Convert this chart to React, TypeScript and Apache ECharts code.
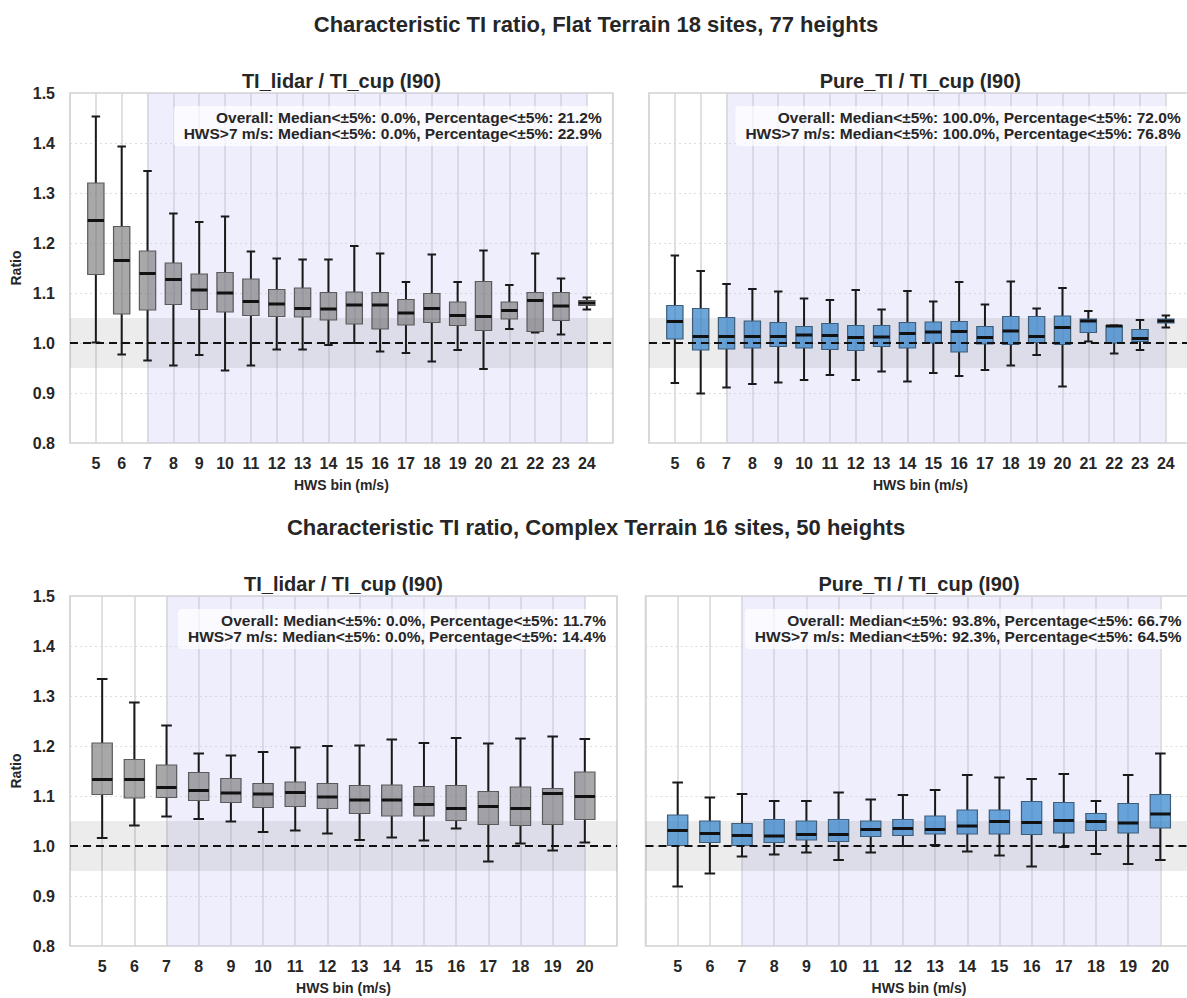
import React, { useEffect, useRef } from "react";
import * as echarts from "echarts";

const FONT = '"Liberation Sans", Arial, Helvetica, sans-serif';

const FLAT_BINS = [5, 6, 7, 8, 9, 10, 11, 12, 13, 14, 15, 16, 17, 18, 19, 20, 21, 22, 23, 24];
const COMPLEX_BINS = [5, 6, 7, 8, 9, 10, 11, 12, 13, 14, 15, 16, 17, 18, 19, 20];

// Flat terrain, TI_lidar / TI_cup
const FLAT_LIDAR_LOW = [1.001, 0.977, 0.965, 0.955, 0.976, 0.945, 0.955, 0.987, 0.987, 0.996, 1.0, 0.983, 0.98, 0.963, 0.986, 0.948, 1.028, 1.021, 1.017, 1.067];
const FLAT_LIDAR_Q1 = [1.137, 1.058, 1.066, 1.077, 1.067, 1.062, 1.055, 1.053, 1.052, 1.046, 1.038, 1.028, 1.036, 1.041, 1.035, 1.025, 1.048, 1.023, 1.045, 1.075];
const FLAT_LIDAR_MED = [1.245, 1.165, 1.139, 1.127, 1.106, 1.1, 1.083, 1.078, 1.069, 1.068, 1.076, 1.076, 1.06, 1.069, 1.055, 1.053, 1.065, 1.085, 1.074, 1.08];
const FLAT_LIDAR_Q3 = [1.32, 1.233, 1.184, 1.16, 1.138, 1.141, 1.128, 1.107, 1.11, 1.101, 1.102, 1.101, 1.087, 1.099, 1.082, 1.123, 1.082, 1.101, 1.101, 1.085];
const FLAT_LIDAR_HIGH = [1.453, 1.393, 1.344, 1.259, 1.242, 1.253, 1.183, 1.169, 1.167, 1.167, 1.194, 1.179, 1.122, 1.177, 1.122, 1.185, 1.116, 1.179, 1.129, 1.091];

// Flat terrain, Pure_TI / TI_cup
const FLAT_PURE_LOW = [0.92, 0.899, 0.911, 0.918, 0.921, 0.926, 0.936, 0.926, 0.943, 0.923, 0.94, 0.934, 0.946, 0.955, 0.976, 0.913, 1.003, 0.979, 0.986, 1.031];
const FLAT_PURE_Q1 = [1.008, 0.986, 0.988, 0.99, 0.993, 0.99, 0.987, 0.985, 0.993, 0.99, 1.0, 0.982, 0.998, 0.997, 1.001, 0.997, 1.021, 1.0, 1.003, 1.04];
const FLAT_PURE_MED = [1.043, 1.013, 1.013, 1.013, 1.013, 1.016, 1.015, 1.011, 1.012, 1.019, 1.022, 1.023, 1.011, 1.024, 1.013, 1.031, 1.044, 1.034, 1.009, 1.044];
const FLAT_PURE_Q3 = [1.075, 1.069, 1.051, 1.044, 1.041, 1.033, 1.039, 1.035, 1.035, 1.041, 1.042, 1.043, 1.033, 1.053, 1.053, 1.054, 1.048, 1.035, 1.027, 1.048];
const FLAT_PURE_HIGH = [1.175, 1.144, 1.118, 1.108, 1.103, 1.089, 1.086, 1.106, 1.067, 1.104, 1.083, 1.122, 1.077, 1.123, 1.069, 1.11, 1.064, 1.035, 1.046, 1.055];

// Complex terrain, TI_lidar / TI_cup
const COMPLEX_LIDAR_LOW = [1.016, 1.041, 1.059, 1.054, 1.049, 1.028, 1.031, 1.025, 1.012, 1.017, 1.011, 1.035, 0.969, 1.005, 0.991, 1.007];
const COMPLEX_LIDAR_Q1 = [1.103, 1.096, 1.097, 1.091, 1.087, 1.077, 1.079, 1.075, 1.065, 1.06, 1.06, 1.051, 1.043, 1.041, 1.043, 1.053];
const COMPLEX_LIDAR_MED = [1.133, 1.133, 1.117, 1.111, 1.106, 1.104, 1.107, 1.098, 1.092, 1.092, 1.083, 1.075, 1.079, 1.075, 1.105, 1.099];
const COMPLEX_LIDAR_Q3 = [1.206, 1.173, 1.162, 1.147, 1.135, 1.125, 1.128, 1.125, 1.121, 1.122, 1.119, 1.121, 1.109, 1.118, 1.115, 1.148];
const COMPLEX_LIDAR_HIGH = [1.334, 1.287, 1.241, 1.185, 1.181, 1.188, 1.197, 1.2, 1.201, 1.213, 1.206, 1.216, 1.205, 1.215, 1.219, 1.214];

// Complex terrain, Pure_TI / TI_cup
const COMPLEX_PURE_LOW = [0.919, 0.945, 0.979, 0.983, 0.987, 0.972, 0.987, 1.0, 1.002, 0.989, 0.981, 0.959, 0.998, 0.984, 0.964, 0.972];
const COMPLEX_PURE_Q1 = [1.001, 1.007, 1.001, 1.007, 1.012, 1.009, 1.019, 1.021, 1.024, 1.024, 1.024, 1.023, 1.026, 1.031, 1.026, 1.036];
const COMPLEX_PURE_MED = [1.031, 1.025, 1.021, 1.02, 1.023, 1.023, 1.033, 1.035, 1.033, 1.04, 1.049, 1.047, 1.051, 1.049, 1.046, 1.064];
const COMPLEX_PURE_Q3 = [1.062, 1.05, 1.045, 1.053, 1.05, 1.053, 1.05, 1.053, 1.06, 1.072, 1.072, 1.089, 1.087, 1.065, 1.085, 1.103];
const COMPLEX_PURE_HIGH = [1.127, 1.097, 1.104, 1.09, 1.09, 1.107, 1.093, 1.102, 1.112, 1.142, 1.137, 1.134, 1.144, 1.09, 1.142, 1.185];

const SUPTITLES = [
  "Characteristic TI ratio, Flat Terrain 18 sites, 77 heights",
  "Characteristic TI ratio, Complex Terrain 16 sites, 50 heights",
];
const PANEL_TITLES = ["TI_lidar / TI_cup (I90)", "Pure_TI / TI_cup (I90)", "TI_lidar / TI_cup (I90)", "Pure_TI / TI_cup (I90)"];
const ANNOTATIONS = [
  "Overall: Median<±5%: 0.0%, Percentage<±5%: 21.2%\nHWS>7 m/s: Median<±5%: 0.0%, Percentage<±5%: 22.9%",
  "Overall: Median<±5%: 100.0%, Percentage<±5%: 72.0%\nHWS>7 m/s: Median<±5%: 100.0%, Percentage<±5%: 76.8%",
  "Overall: Median<±5%: 0.0%, Percentage<±5%: 11.7%\nHWS>7 m/s: Median<±5%: 0.0%, Percentage<±5%: 14.4%",
  "Overall: Median<±5%: 93.8%, Percentage<±5%: 66.7%\nHWS>7 m/s: Median<±5%: 92.3%, Percentage<±5%: 64.5%",
];
const Y_TICKS_MIN = 0.8;
const Y_TICKS_MAX = 1.5;
const SHADE_START = 7;

const GRAY_FILL = "rgba(110,110,110,0.6)";
const GRAY_EDGE = "#5a5a5a";
const BLUE_FILL = "rgba(40,125,200,0.68)";
const BLUE_EDGE = "#3d5d78";

type Panel = {
  left: number; top: number; width: number; height: number;
  xMax: number; bins: number[];
  low: number[]; q1: number[]; med: number[]; q3: number[]; high: number[];
  fill: string; edge: string; showY: boolean;
};

const PANELS: Panel[] = [
  { left: 70, top: 93, width: 542.7, height: 350, xMax: 25, bins: FLAT_BINS, low: FLAT_LIDAR_LOW, q1: FLAT_LIDAR_Q1, med: FLAT_LIDAR_MED, q3: FLAT_LIDAR_Q3, high: FLAT_LIDAR_HIGH, fill: GRAY_FILL, edge: GRAY_EDGE, showY: true },
  { left: 649, top: 93, width: 542.7, height: 350, xMax: 25, bins: FLAT_BINS, low: FLAT_PURE_LOW, q1: FLAT_PURE_Q1, med: FLAT_PURE_MED, q3: FLAT_PURE_Q3, high: FLAT_PURE_HIGH, fill: BLUE_FILL, edge: BLUE_EDGE, showY: false },
  { left: 70, top: 596, width: 547, height: 350, xMax: 21, bins: COMPLEX_BINS, low: COMPLEX_LIDAR_LOW, q1: COMPLEX_LIDAR_Q1, med: COMPLEX_LIDAR_MED, q3: COMPLEX_LIDAR_Q3, high: COMPLEX_LIDAR_HIGH, fill: GRAY_FILL, edge: GRAY_EDGE, showY: true },
  { left: 645.5, top: 596, width: 547, height: 350, xMax: 21, bins: COMPLEX_BINS, low: COMPLEX_PURE_LOW, q1: COMPLEX_PURE_Q1, med: COMPLEX_PURE_MED, q3: COMPLEX_PURE_Q3, high: COMPLEX_PURE_HIGH, fill: BLUE_FILL, edge: BLUE_EDGE, showY: false },
];

const TEXT_COLOR = "#262626";

function buildOption() {
  const grid: any[] = [];
  const xAxis: any[] = [];
  const yAxis: any[] = [];
  const series: any[] = [];
  const graphic: any[] = [];

  PANELS.forEach((p, i) => {
    const lastBin = p.bins[p.bins.length - 1];
    grid.push({
      left: p.left, top: p.top, width: p.width, height: p.height,
      show: true, borderColor: "#d2d2d2", borderWidth: 1.5, backgroundColor: "transparent",
    });
    xAxis.push({
      type: "value", gridIndex: i, min: 4, max: p.xMax, interval: 1,
      axisLine: { show: false }, axisTick: { show: false },
      splitLine: { show: true, lineStyle: { color: "#d6d6d6", width: 1.5 } },
      axisLabel: {
        margin: 12, fontSize: 16, fontWeight: "bold", color: TEXT_COLOR, fontFamily: FONT,
        formatter: (v: number) => (v >= p.bins[0] && v <= lastBin ? String(v) : ""),
      },
      name: "HWS bin (m/s)", nameLocation: "middle", nameGap: 35,
      nameTextStyle: { fontSize: 14, fontWeight: "bold", color: TEXT_COLOR, fontFamily: FONT },
    });
    yAxis.push({
      type: "value", gridIndex: i, min: Y_TICKS_MIN, max: Y_TICKS_MAX, interval: 0.1,
      axisLine: { show: false }, axisTick: { show: false },
      splitLine: { show: true, lineStyle: { color: "#dcdcdc", width: 1, type: [2, 3] } },
      axisLabel: {
        show: p.showY, margin: 15, fontSize: 16, fontWeight: "bold", color: TEXT_COLOR, fontFamily: FONT,
        formatter: (v: number) => v.toFixed(1),
      },
      name: p.showY ? "Ratio" : "", nameLocation: "middle", nameGap: 47,
      nameTextStyle: { fontSize: 14, fontWeight: "bold", color: TEXT_COLOR, fontFamily: FONT },
    });

    // shaded regions
    series.push({
      type: "line", xAxisIndex: i, yAxisIndex: i, data: [], silent: true, z: 1,
      markArea: {
        silent: true,
        data: [
          [{ xAxis: SHADE_START, itemStyle: { color: "rgba(200,200,250,0.3)" } }, { xAxis: lastBin }],
          [{ yAxis: 0.95, itemStyle: { color: "rgba(128,128,128,0.15)" } }, { yAxis: 1.05 }],
        ],
      },
    });

    const data = p.bins.map((b, k) => [b, p.low[k], p.q1[k], p.med[k], p.q3[k], p.high[k]]);
    series.push({
      type: "custom", xAxisIndex: i, yAxisIndex: i, z: 3, silent: true,
      encode: { x: 0, y: [1, 2, 3, 4, 5] },
      data,
      renderItem: (params: any, api: any) => {
        const x = api.value(0);
        const pLo = api.coord([x, api.value(1)]);
        const pQ1 = api.coord([x, api.value(2)]);
        const pMed = api.coord([x, api.value(3)]);
        const pQ3 = api.coord([x, api.value(4)]);
        const pHi = api.coord([x, api.value(5)]);
        const bw = api.size([0.63, 0])[0];
        const cw = api.size([0.33, 0])[0];
        const cx = pLo[0];
        const ws = { stroke: "#1a1a1a", lineWidth: 2 };
        return {
          type: "group",
          children: [
            { type: "line", shape: { x1: cx, y1: pLo[1], x2: cx, y2: pQ1[1] }, style: ws },
            { type: "line", shape: { x1: cx, y1: pQ3[1], x2: cx, y2: pHi[1] }, style: ws },
            { type: "line", shape: { x1: cx - cw / 2, y1: pLo[1], x2: cx + cw / 2, y2: pLo[1] }, style: ws },
            { type: "line", shape: { x1: cx - cw / 2, y1: pHi[1], x2: cx + cw / 2, y2: pHi[1] }, style: ws },
            {
              type: "rect",
              shape: { x: cx - bw / 2, y: pQ3[1], width: bw, height: pQ1[1] - pQ3[1] },
              style: { fill: p.fill, stroke: p.edge, lineWidth: 1.2 },
            },
            { type: "line", shape: { x1: cx - bw / 2, y1: pMed[1], x2: cx + bw / 2, y2: pMed[1] }, style: { stroke: "#111", lineWidth: 3 } },
          ],
        };
      },
    });

    series.push({
      type: "line", xAxisIndex: i, yAxisIndex: i, z: 5, silent: true,
      data: [[4, 1.0], [p.xMax, 1.0]], symbol: "none",
      lineStyle: { color: "#111", width: 2, type: [8, 5] },
    });

    graphic.push({
      type: "text", x: p.left + p.width / 2, y: p.top - 12, z: 100,
      style: { text: PANEL_TITLES[i], fontSize: 20, fontWeight: "bold", fontFamily: FONT, fill: TEXT_COLOR, align: "center", verticalAlign: "middle" },
    });
    graphic.push({
      type: "text", x: p.left + p.width - 5, y: p.top + 13, z: 100,
      style: {
        text: ANNOTATIONS[i], fontSize: 15.5, fontWeight: "bold", fontFamily: FONT, fill: TEXT_COLOR,
        align: "right", verticalAlign: "top", lineHeight: 16,
        backgroundColor: "rgba(255,255,255,0.72)", borderRadius: 4, padding: [3, 6, 5, 10],
      },
    });
  });

  graphic.push({
    type: "text", x: 596, y: 24, z: 100,
    style: { text: SUPTITLES[0], fontSize: 22, fontWeight: "bold", fontFamily: FONT, fill: TEXT_COLOR, align: "center", verticalAlign: "middle" },
  });
  graphic.push({
    type: "text", x: 596, y: 527, z: 100,
    style: { text: SUPTITLES[1], fontSize: 22, fontWeight: "bold", fontFamily: FONT, fill: TEXT_COLOR, align: "center", verticalAlign: "middle" },
  });

  return {
    animation: false,
    backgroundColor: "#ffffff",
    textStyle: { fontFamily: FONT },
    grid, xAxis, yAxis, series, graphic,
  };
}

export default function App() {
  const ref = useRef<HTMLDivElement>(null);
  useEffect(() => {
    if (!ref.current) return;
    const chart = echarts.init(ref.current, undefined, { renderer: "svg" });
    chart.setOption(buildOption() as any);
    return () => chart.dispose();
  }, []);
  return (
    <div style={{ position: "absolute", left: 0, top: 0, width: 1187, height: 998, overflow: "hidden", background: "#fff" }}>
      <div ref={ref} style={{ width: 1210, height: 998 }} />
    </div>
  );
}
